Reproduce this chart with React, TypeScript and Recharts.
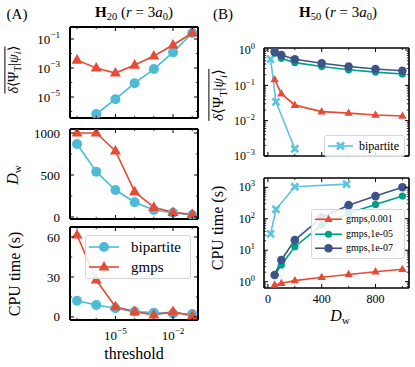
import React from 'react';
import { LineChart, Line, XAxis, YAxis, Legend } from 'recharts';

const FONT = '"Liberation Serif", "Times New Roman", serif';
const RED = '#E64B35';
const BLUE = '#4DBBD5';
const CYAN = '#5CC4DE';
const TEAL = '#00A087';
const NAVY = '#3C5488';

// ---- panel A: H20, vs threshold ----
const thresholds = [1e-7, 1e-6, 1e-5, 1e-4, 1e-3, 1e-2, 1e-1];
const errBipartiteA = [null, 6.7e-7, 7e-6, 9e-5, 8.5e-4, 1.2e-2, 0.26];
const errGmpsA = [3.5e-3, 1.0e-3, 4.5e-4, 1.6e-3, 6.7e-3, 3.9e-2, 0.26];
const dwBipartiteA = [869, 539, 321, 175, 83, 51, 24];
const dwGmpsA = [1000, 1000, 786, 301, 115, 55, 32];
const cpuBipartiteA = [12.2, 9, 6.5, 4, 3.2, 2.6, 2.2];
const cpuGmpsA = [61.5, 27.7, 7.7, 4, 1.5, 4, 0.8];

const errTicksA = [1e-6, 1e-5, 1e-4, 1e-3, 1e-2, 1e-1];
const dwTicksA = [0, 250, 500, 750, 1000];
const cpuTicksA = [0, 15, 30, 45, 60];

// ---- panel B: H50, vs D_w ----
const dwBipartiteB = [20, 60, 200, 585];
const errBipartiteB = [0.55, 0.034, 0.0016, null];
const cpuBipartiteB = [33, 200, 1040, 1260];
const dwGmpsB = [50, 100, 200, 400, 600, 800, 1000];
const errGmps3 = [0.145, 0.058, 0.0275, 0.018, 0.0164, 0.0144, 0.0135];
const errGmps5 = [0.81, 0.58, 0.44, 0.34, 0.275, 0.237, 0.21];
const errGmps7 = [0.9, 0.72, 0.55, 0.42, 0.34, 0.29, 0.26];
const cpuGmps3 = [0.79, 0.89, 1.08, 1.38, 1.7, 2.07, 2.47];
const cpuGmps5 = [1.63, 3.4, 12.9, 63, 150, 285, 525];
const cpuGmps7 = [1.63, 4.9, 21, 110, 270, 525, 1000];

const dwTicksB = [0, 200, 400, 600, 800, 1000];
const errDecadesB = [1e-3, 1e-2, 1e-1, 1];
const cpuDecadesB = [1, 10, 100, 1000];

const rowsA = thresholds.map((t, i) => ({
  t,
  eB: errBipartiteA[i],
  eG: errGmpsA[i],
  dB: dwBipartiteA[i],
  dG: dwGmpsA[i],
  cB: cpuBipartiteA[i],
  cG: cpuGmpsA[i],
}));

const zip = (xs: number[], ys: (number | null)[]) => xs.map((x, i) => ({ x, y: ys[i] }));

function withMinors(decades: number[], lo: number, hi: number) {
  const out: number[] = [];
  [decades[0] / 10, ...decades].forEach((d) => {
    for (let m = 1; m < 10; m++) {
      const v = +(d * m).toPrecision(6);
      if (v >= lo && v <= hi) out.push(v);
    }
  });
  return out;
}
const isDecade = (v: number) => Math.abs(Math.log10(v) - Math.round(Math.log10(v))) < 1e-6;

type Shape = 'circle' | 'tri' | 'x';

function Marker({ shape, cx, cy, s, color }: { shape: Shape; cx: number; cy: number; s: number; color: string }) {
  if (shape === 'circle') return <circle cx={cx} cy={cy} r={s} fill={color} />;
  if (shape === 'tri') {
    const pts = `${cx},${cy - s * 1.1} ${cx - s},${cy + s * 0.65} ${cx + s},${cy + s * 0.65}`;
    return <polygon points={pts} fill={color} />;
  }
  return (
    <g stroke={color} strokeWidth={s * 0.75}>
      <line x1={cx - s} y1={cy - s} x2={cx + s} y2={cy + s} />
      <line x1={cx - s} y1={cy + s} x2={cx + s} y2={cy - s} />
    </g>
  );
}

const dotOf = (shape: Shape, s: number, color: string) => (p: any) => {
  if (p.value == null || !Number.isFinite(p.cx) || !Number.isFinite(p.cy)) return <g key={p.index} />;
  return (
    <g key={p.index}>
      <Marker shape={shape} cx={p.cx} cy={p.cy} s={s} color={color} />
    </g>
  );
};

const pow = (fs: number) => (v: number) => {
  const e = Math.round(Math.log10(v));
  return (
    <>
      10
      <tspan dy={-fs * 0.42} fontSize={fs * 0.7}>
        {e < 0 ? '\u2212' + -e : String(e)}
      </tspan>
    </>
  );
};
const plain = (v: number) => String(v);

type Side = 'left' | 'right' | 'top' | 'bottom';

function mkTick(side: Side, gap: number, fs: number, major: (v: number) => boolean, label?: (v: number) => React.ReactNode) {
  return (props: any) => {
    const { x, y, payload, index } = props;
    const v = payload.value;
    const isMaj = major(v);
    const len = isMaj ? 4 : 2.2;
    const sw = isMaj ? 1 : 0.8;
    const lab = isMaj && label ? label(v) : null;
    const tstyle = { fontFamily: FONT, fontSize: fs, fill: '#000' };
    let line: React.ReactNode = null;
    let text: React.ReactNode = null;
    if (side === 'left') {
      const ax = x + gap;
      line = <line x1={ax} x2={ax + len} y1={y} y2={y} stroke="#000" strokeWidth={sw} />;
      if (lab != null)
        text = (
          <text x={x} y={y} dy="0.35em" textAnchor="end" style={tstyle}>
            {lab}
          </text>
        );
    } else if (side === 'right') {
      line = <line x1={x} x2={x - len} y1={y} y2={y} stroke="#000" strokeWidth={sw} />;
    } else if (side === 'bottom') {
      const ay = y - gap;
      line = <line x1={x} x2={x} y1={ay} y2={ay - len} stroke="#000" strokeWidth={sw} />;
      if (lab != null)
        text = (
          <text x={x} y={y + fs * 0.75} textAnchor="middle" style={tstyle}>
            {lab}
          </text>
        );
    } else {
      line = <line x1={x} x2={x} y1={y} y2={y + len} stroke="#000" strokeWidth={sw} />;
    }
    return (
      <g key={index}>
        {line}
        {text}
      </g>
    );
  };
}

type AxisCfg = {
  domain: [number, number];
  ticks: number[];
  log?: boolean;
  major: (v: number) => boolean;
  label?: (v: number) => React.ReactNode;
  gap: number;
  size: number;
  dataKey?: string;
};

function frameAxes(xc: AxisCfg, yc: AxisCfg, fs: number, lw: number) {
  const axisLine = { stroke: '#000', strokeWidth: lw };
  const xs = xc.log ? 'log' : 'linear';
  const ys = yc.log ? 'log' : 'linear';
  return [
    <XAxis key="xb" xAxisId="b" type="number" dataKey={xc.dataKey} scale={xs} domain={xc.domain} ticks={xc.ticks}
      allowDataOverflow interval={0} tickSize={0} tickLine={false} axisLine={axisLine}
      height={xc.size} tickMargin={xc.gap} tick={mkTick('bottom', xc.gap, fs, xc.major, xc.label)} />,
    <XAxis key="xt" xAxisId="t" orientation="top" type="number" dataKey={xc.dataKey} scale={xs} domain={xc.domain} ticks={xc.ticks}
      allowDataOverflow interval={0} tickSize={0} tickLine={false} axisLine={axisLine}
      height={1} tickMargin={0} tick={mkTick('top', 0, fs, xc.major)} />,
    <YAxis key="yl" yAxisId="l" type="number" scale={ys} domain={yc.domain} ticks={yc.ticks}
      allowDataOverflow interval={0} tickSize={0} tickLine={false} axisLine={axisLine}
      width={yc.size} tickMargin={yc.gap} tick={mkTick('left', yc.gap, fs, yc.major, yc.label)} />,
    <YAxis key="yr" yAxisId="r" orientation="right" type="number" scale={ys} domain={yc.domain} ticks={yc.ticks}
      allowDataOverflow interval={0} tickSize={0} tickLine={false} axisLine={axisLine}
      width={1} tickMargin={0} tick={mkTick('right', 0, fs, yc.major)} />,
  ];
}

const P = 6;
type Rect = { x: number; y: number; w: number; h: number };
function boxOf(r: Rect, yw: number, xh: number) {
  return {
    left: r.x - P - yw,
    top: r.y - P - 1,
    width: P + yw + r.w + 1 + P,
    height: P + 1 + r.h + xh + P,
  };
}
const MARGIN = { top: P, right: P, bottom: P, left: P };

type LegendItem = { label: string; color: string; shape: Shape; s: number };
function LegendBox({ items, fs, lw, rowH, gap, w, pad }: { items: LegendItem[]; fs: number; lw: number; rowH: number; gap: number; w: number; pad: number }) {
  return (
    <div
      style={{
        width: w,
        boxSizing: 'border-box',
        border: '1px solid #d6d6d6',
        borderRadius: 3,
        background: 'rgba(255,255,255,0.85)',
        padding: `${pad}px 3px`,
        fontFamily: FONT,
        fontSize: fs,
        lineHeight: 1,
        color: '#000',
      }}
    >
      {items.map((it) => (
        <div key={it.label} style={{ display: 'flex', alignItems: 'center', height: rowH }}>
          <svg width={lw} height={rowH} style={{ display: 'block', flex: 'none' }}>
            <line x1={0} x2={lw} y1={rowH / 2} y2={rowH / 2} stroke={it.color} strokeWidth={1.6} />
            <Marker shape={it.shape} cx={lw / 2} cy={rowH / 2} s={it.s} color={it.color} />
          </svg>
          <span style={{ marginLeft: gap, whiteSpace: 'nowrap' }}>{it.label}</span>
        </div>
      ))}
    </div>
  );
}

const Sub = ({ children }: { children: React.ReactNode }) => (
  <span style={{ fontSize: '0.7em', verticalAlign: '-0.3em' }}>{children}</span>
);

function Txt({ x, y, size, rot, children }: { x: number; y: number; size: number; rot?: boolean; children: React.ReactNode }) {
  return (
    <div
      style={{
        position: 'absolute',
        left: x,
        top: y,
        transform: `translate(-50%, -50%)${rot ? ' rotate(-90deg)' : ''}`,
        fontFamily: FONT,
        fontSize: size,
        whiteSpace: 'nowrap',
        lineHeight: 1,
        color: '#000',
      }}
    >
      {children}
    </div>
  );
}

const Overlap = () => (
  <span style={{ display: 'inline-block', borderTop: '1px solid #000', paddingTop: 1, lineHeight: 1.15 }}>
    <i>δ</i>⟨Ψ<Sub>T</Sub>|<i>ψ</i>
    <Sub>
      <i>i</i>
    </Sub>
    ⟩
  </span>
);

// plot rectangles (page coordinates)
const rA1: Rect = { x: 70, y: 27, w: 128, h: 91 };
const rA2: Rect = { x: 70, y: 129, w: 128, h: 90 };
const rA3: Rect = { x: 70, y: 227, w: 128, h: 93 };
const rB1: Rect = { x: 264, y: 48, w: 145, h: 108 };
const rB2: Rect = { x: 264, y: 178, w: 145, h: 110 };

const FA = 13;
const FB = 12;

const xA = (size: number, withLabel: boolean): AxisCfg => ({
  domain: [4.3e-8, 0.2],
  ticks: thresholds,
  log: true,
  major: (v) => (Math.round(Math.log10(v)) + 8) % 3 === 0,
  label: withLabel ? pow(FA) : undefined,
  gap: 10,
  size,
  dataKey: 't',
});

const xB = (size: number, withLabel: boolean): AxisCfg => ({
  domain: [-29, 1049],
  ticks: dwTicksB,
  major: (v) => v % 400 === 0,
  label: withLabel ? plain : undefined,
  gap: 6,
  size,
  dataKey: 'x',
});

export default function App() {
  const bA1 = boxOf(rA1, 50, 1);
  const bA2 = boxOf(rA2, 50, 1);
  const bA3 = boxOf(rA3, 50, 28);
  const bB1 = boxOf(rB1, 40, 1);
  const bB2 = boxOf(rB2, 40, 24);

  const lineProps = { isAnimationActive: false, activeDot: false, connectNulls: false, xAxisId: 'b', yAxisId: 'l', strokeWidth: 1.6 } as const;

  return (
    <div style={{ position: 'absolute', left: 0, top: 0, width: 415, height: 367, background: '#fff', overflow: 'hidden' }}>
      {/* A1: overlap error */}
      <div style={{ position: 'absolute', left: bA1.left, top: bA1.top }}>
        <LineChart width={bA1.width} height={bA1.height} data={rowsA} margin={MARGIN}>
          {frameAxes(
            xA(1, false),
            {
              domain: [Math.pow(10, -6.45), Math.pow(10, -0.17)],
              ticks: errTicksA,
              log: true,
              major: (v) => Math.abs(Math.round(Math.log10(v))) % 2 === 1,
              label: pow(FA),
              gap: 10,
              size: 50,
            },
            FA,
            2
          )}
          <Line {...lineProps} dataKey="eB" stroke={BLUE} dot={dotOf('circle', 5, BLUE)} />
          <Line {...lineProps} dataKey="eG" stroke={RED} dot={dotOf('tri', 5.5, RED)} />
        </LineChart>
      </div>

      {/* A2: bond dimension */}
      <div style={{ position: 'absolute', left: bA2.left, top: bA2.top }}>
        <LineChart width={bA2.width} height={bA2.height} data={rowsA} margin={MARGIN}>
          {frameAxes(
            xA(1, false),
            { domain: [-24, 1048], ticks: dwTicksA, major: (v) => v % 500 === 0, label: plain, gap: 10, size: 50 },
            FA,
            2
          )}
          <Line {...lineProps} dataKey="dB" stroke={BLUE} dot={dotOf('circle', 5, BLUE)} />
          <Line {...lineProps} dataKey="dG" stroke={RED} dot={dotOf('tri', 5.5, RED)} />
        </LineChart>
      </div>

      {/* A3: CPU time */}
      <div style={{ position: 'absolute', left: bA3.left, top: bA3.top }}>
        <LineChart width={bA3.width} height={bA3.height} data={rowsA} margin={MARGIN}>
          {frameAxes(
            xA(28, true),
            { domain: [-2.3, 67.5], ticks: cpuTicksA, major: (v) => v % 30 === 0, label: plain, gap: 10, size: 50 },
            FA,
            2
          )}
          <Line {...lineProps} dataKey="cB" stroke={BLUE} dot={dotOf('circle', 5, BLUE)} />
          <Line {...lineProps} dataKey="cG" stroke={RED} dot={dotOf('tri', 5.5, RED)} />
          <Legend
            layout="vertical"
            align="center"
            verticalAlign="middle"
            wrapperStyle={{ left: 85 - bA3.left, top: 235 - bA3.top }}
            content={() => (
              <LegendBox
                w={106}
                pad={1}
                fs={15}
                lw={30}
                rowH={20}
                gap={12}
                items={[
                  { label: 'bipartite', color: BLUE, shape: 'circle', s: 5 },
                  { label: 'gmps', color: RED, shape: 'tri', s: 5.5 },
                ]}
              />
            )}
          />
        </LineChart>
      </div>

      {/* B1: overlap error vs D_w */}
      <div style={{ position: 'absolute', left: bB1.left, top: bB1.top }}>
        <LineChart width={bB1.width} height={bB1.height} margin={MARGIN}>
          {frameAxes(
            xB(1, false),
            {
              domain: [1e-3, 1.14],
              ticks: withMinors(errDecadesB, 1e-3, 1.14),
              log: true,
              major: isDecade,
              label: pow(FB),
              gap: 9,
              size: 40,
            },
            FB,
            1.6
          )}
          <Line {...lineProps} data={zip(dwBipartiteB, errBipartiteB)} dataKey="y" stroke={CYAN} dot={dotOf('x', 3.5, CYAN)} />
          <Line {...lineProps} data={zip(dwGmpsB, errGmps3)} dataKey="y" stroke={RED} dot={dotOf('tri', 4.2, RED)} />
          <Line {...lineProps} data={zip(dwGmpsB, errGmps5)} dataKey="y" stroke={TEAL} dot={dotOf('circle', 3.6, TEAL)} />
          <Line {...lineProps} data={zip(dwGmpsB, errGmps7)} dataKey="y" stroke={NAVY} dot={dotOf('circle', 4.3, NAVY)} />
          <Legend
            layout="vertical"
            align="center"
            verticalAlign="middle"
            wrapperStyle={{ left: 324 - bB1.left, top: 135 - bB1.top }}
            content={() => (
              <LegendBox
                w={81}
                pad={1}
                fs={12}
                lw={25}
                rowH={18}
                gap={6}
                items={[{ label: 'bipartite', color: CYAN, shape: 'x', s: 3.5 }]}
              />
            )}
          />
        </LineChart>
      </div>

      {/* B2: CPU time vs D_w */}
      <div style={{ position: 'absolute', left: bB2.left, top: bB2.top }}>
        <LineChart width={bB2.width} height={bB2.height} margin={MARGIN}>
          {frameAxes(
            xB(24, true),
            {
              domain: [0.63, 1972],
              ticks: withMinors(cpuDecadesB, 0.63, 1972),
              log: true,
              major: isDecade,
              label: pow(FB),
              gap: 9,
              size: 40,
            },
            FB,
            1.6
          )}
          <Line {...lineProps} data={zip(dwBipartiteB, cpuBipartiteB)} dataKey="y" stroke={CYAN} dot={dotOf('x', 3.5, CYAN)} />
          <Line {...lineProps} data={zip(dwGmpsB, cpuGmps3)} dataKey="y" stroke={RED} dot={dotOf('tri', 4.2, RED)} />
          <Line {...lineProps} data={zip(dwGmpsB, cpuGmps5)} dataKey="y" stroke={TEAL} dot={dotOf('circle', 3.6, TEAL)} />
          <Line {...lineProps} data={zip(dwGmpsB, cpuGmps7)} dataKey="y" stroke={NAVY} dot={dotOf('circle', 4.3, NAVY)} />
          <Legend
            layout="vertical"
            align="center"
            verticalAlign="middle"
            wrapperStyle={{ left: 311 - bB2.left, top: 209 - bB2.top }}
            content={() => (
              <LegendBox
                w={94}
                pad={2}
                fs={10}
                lw={27}
                rowH={14.5}
                gap={4}
                items={[
                  { label: 'gmps,0.001', color: RED, shape: 'tri', s: 4.2 },
                  { label: 'gmps,1e-05', color: TEAL, shape: 'circle', s: 3.6 },
                  { label: 'gmps,1e-07', color: NAVY, shape: 'circle', s: 4.3 },
                ]}
              />
            )}
          />
        </LineChart>
      </div>

      {/* titles and axis labels */}
      <Txt x={17} y={14} size={15}>(A)</Txt>
      <Txt x={134} y={14} size={15}>
        <b>H</b>
        <Sub>20</Sub> (<i>r</i> = 3<i>a</i>
        <Sub>0</Sub>)
      </Txt>
      <Txt x={223} y={14} size={15}>(B)</Txt>
      <Txt x={338} y={14} size={15}>
        <b>H</b>
        <Sub>50</Sub> (<i>r</i> = 3<i>a</i>
        <Sub>0</Sub>)
      </Txt>

      <Txt x={14} y={70} size={14} rot>
        <Overlap />
      </Txt>
      <Txt x={14} y={175} size={16} rot>
        <i>D</i>
        <Sub>w</Sub>
      </Txt>
      <Txt x={15} y={274} size={16} rot>
        CPU time (s)
      </Txt>
      <Txt x={134} y={354} size={16}>
        threshold
      </Txt>

      <Txt x={219} y={95} size={15} rot>
        <Overlap />
      </Txt>
      <Txt x={218} y={228} size={16} rot>
        CPU time (s)
      </Txt>
      <Txt x={340} y={317} size={16}>
        <i>D</i>
        <Sub>w</Sub>
      </Txt>
    </div>
  );
}
